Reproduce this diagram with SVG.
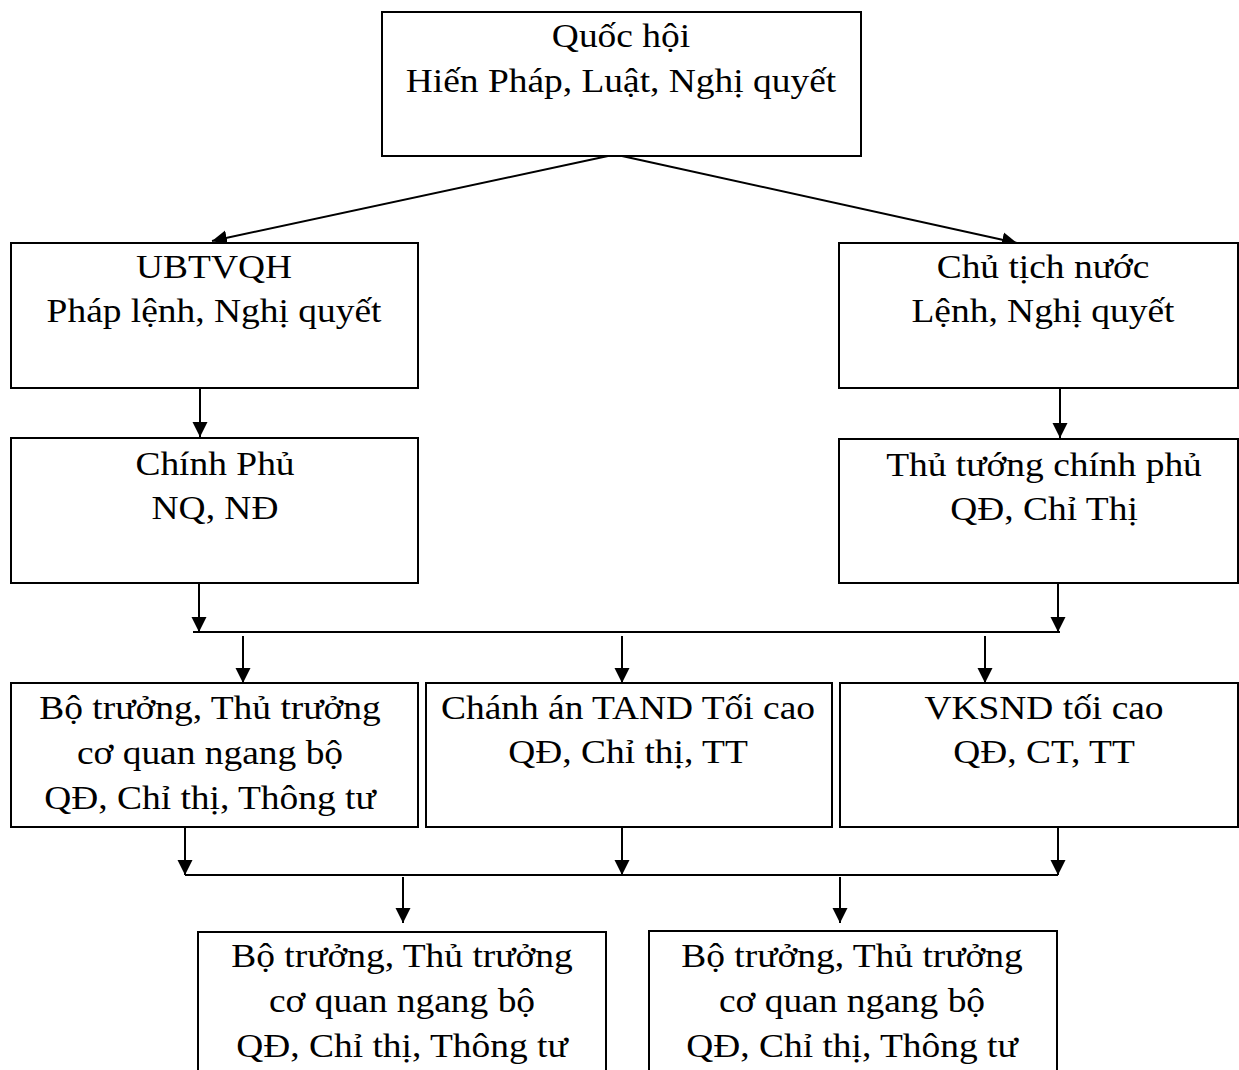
<svg xmlns="http://www.w3.org/2000/svg" width="1239" height="1070" viewBox="0 0 1239 1070">
<style>
.box{fill:#fff;stroke:#000;stroke-width:2}
.c{fill:none;stroke:#000;stroke-width:2}
.t{font-family:"Liberation Serif","Times New Roman",serif;font-size:33px;text-anchor:middle;fill:#000}
</style>
<defs>
<marker id="ah" markerUnits="userSpaceOnUse" markerWidth="16" markerHeight="16" refX="15" refY="8" orient="auto" viewBox="0 0 16 16">
<path d="M0,0.5 L15,8 L0,15.5 z" fill="#000"/>
</marker>
</defs>
<rect width="1239" height="1070" fill="#fff"/>
<g id="connectors">
<path class="c" d="M608,156 L212,241" marker-end="url(#ah)"/>
<path class="c" d="M622,156 L1017,243" marker-end="url(#ah)"/>
<path class="c" d="M200,388 V437" marker-end="url(#ah)"/>
<path class="c" d="M1060,389 V438" marker-end="url(#ah)"/>
<path class="c" d="M199,584 V632" marker-end="url(#ah)"/>
<path class="c" d="M1058,584 V632" marker-end="url(#ah)"/>
<path class="c" d="M193,632 H1060"/>
<path class="c" d="M243,636 V683" marker-end="url(#ah)"/>
<path class="c" d="M622,636 V683" marker-end="url(#ah)"/>
<path class="c" d="M985,636 V683" marker-end="url(#ah)"/>
<path class="c" d="M185,828 V875" marker-end="url(#ah)"/>
<path class="c" d="M622,828 V875" marker-end="url(#ah)"/>
<path class="c" d="M1058,828 V875" marker-end="url(#ah)"/>
<path class="c" d="M185,875 H1058"/>
<path class="c" d="M403,877 V923" marker-end="url(#ah)"/>
<path class="c" d="M840,877 V923" marker-end="url(#ah)"/>
</g>
<g id="quochoi">
<rect class="box" x="382" y="12" width="479" height="144"/>
<g transform="translate(621 0) scale(1.135 1)"><text class="t" x="0" y="47">Quốc hội</text><text class="t" x="0" y="92">Hiến Pháp, Luật, Nghị quyết</text></g>
</g>
<g id="ubtvqh">
<rect class="box" x="11" y="243" width="407" height="145"/>
<g transform="translate(214 0) scale(1.135 1)"><text class="t" x="0" y="278">UBTVQH</text><text class="t" x="0" y="322">Pháp lệnh, Nghị quyết</text></g>
</g>
<g id="chutichnuoc">
<rect class="box" x="839" y="243" width="399" height="145"/>
<g transform="translate(1043 0) scale(1.135 1)"><text class="t" x="0" y="278">Chủ tịch nước</text><text class="t" x="0" y="322">Lệnh, Nghị quyết</text></g>
</g>
<g id="chinhphu">
<rect class="box" x="11" y="438" width="407" height="145"/>
<g transform="translate(215 0) scale(1.135 1)"><text class="t" x="0" y="475">Chính Phủ</text><text class="t" x="0" y="519">NQ, NĐ</text></g>
</g>
<g id="thutuong">
<rect class="box" x="839" y="439" width="399" height="144"/>
<g transform="translate(1044 0) scale(1.135 1)"><text class="t" x="0" y="476">Thủ tướng chính phủ</text><text class="t" x="0" y="520">QĐ, Chỉ Thị</text></g>
</g>
<g id="botruong1">
<rect class="box" x="11" y="683" width="407" height="144"/>
<g transform="translate(210 0) scale(1.135 1)"><text class="t" x="0" y="719">Bộ trưởng, Thủ trưởng</text><text class="t" x="0" y="764">cơ quan ngang bộ</text><text class="t" x="0" y="809">QĐ, Chỉ thị, Thông tư</text></g>
</g>
<g id="chanhan">
<rect class="box" x="426" y="683" width="406" height="144"/>
<g transform="translate(628 0) scale(1.135 1)"><text class="t" x="0" y="719">Chánh án TAND Tối cao</text><text class="t" x="0" y="763">QĐ, Chỉ thị, TT</text></g>
</g>
<g id="vksnd">
<rect class="box" x="840" y="683" width="398" height="144"/>
<g transform="translate(1044 0) scale(1.135 1)"><text class="t" x="0" y="719">VKSND tối cao</text><text class="t" x="0" y="763">QĐ, CT, TT</text></g>
</g>
<g id="botruong2">
<rect class="box" x="198" y="932" width="408" height="150"/>
<g transform="translate(402 0) scale(1.135 1)"><text class="t" x="0" y="967">Bộ trưởng, Thủ trưởng</text><text class="t" x="0" y="1012">cơ quan ngang bộ</text><text class="t" x="0" y="1057">QĐ, Chỉ thị, Thông tư</text></g>
</g>
<g id="botruong3">
<rect class="box" x="649" y="931" width="408" height="151"/>
<g transform="translate(852 0) scale(1.135 1)"><text class="t" x="0" y="967">Bộ trưởng, Thủ trưởng</text><text class="t" x="0" y="1012">cơ quan ngang bộ</text><text class="t" x="0" y="1057">QĐ, Chỉ thị, Thông tư</text></g>
</g>
</svg>
